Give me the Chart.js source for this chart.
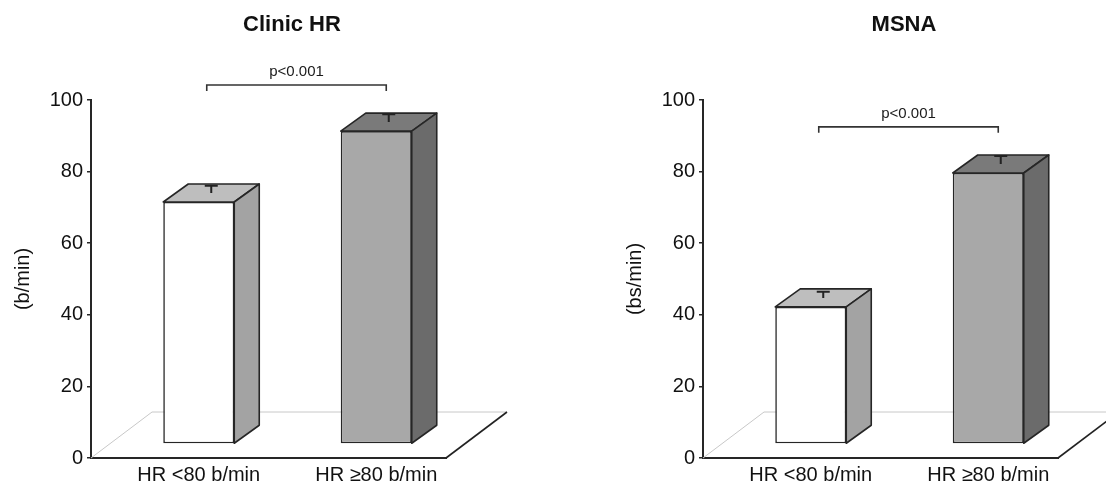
<!DOCTYPE html>
<html>
<head>
<meta charset="utf-8">
<script src="https://cdn.jsdelivr.net/npm/chart.js@4/dist/chart.umd.min.js"></script>
<style>
  html, body { margin: 0; padding: 0; background: #fff; }
  #wrap { position: relative; width: 1106px; height: 485px; }
  .panel { position: absolute; top: 0; width: 553px; height: 485px; }
  #left { left: 0; }
  #right { left: 553px; }
</style>
</head>
<body>
<div id="wrap">
  <div class="panel" id="left"><canvas id="clinic-hr"></canvas></div>
  <div class="panel" id="right"><canvas id="msna"></canvas></div>
</div>
<script>
// values (mean and error bar)
const categories = ['HR <80 b/min', 'HR \u226580 b/min'];
const clinicHR = [67.6, 87.4];
const clinicHRErr = [2.0, 2.2];
const msna = [38.3, 75.7];
const msnaErr = [1.7, 2.2];
const yTicks = [0, 20, 40, 60, 80, 100];
const pText = 'p<0.001';

const FONT = 'Liberation Sans, Arial, Helvetica, sans-serif';

// face colours per bar: front, top, side
const frontColors = ['#ffffff', '#a8a8a8'];
const topColors = ['#bebebe', '#7a7a7a'];
const sideColors = ['#a3a3a3', '#6b6b6b'];

// 3D look: bars sit a little behind the floor front edge
const FLOOR = { dx: 61, dy: -46 };
const BAR_SHIFT = { dx: 19, dy: -14 };
const BAR_DEPTH = { dx: 25, dy: -18 };

const box3d = {
  id: 'box3d',
  beforeDatasetsDraw(chart) {
    const { ctx, chartArea: a } = chart;
    ctx.save();
    ctx.lineWidth = 1;
    ctx.strokeStyle = '#c8c8c8';
    ctx.beginPath();
    ctx.moveTo(a.left, a.bottom);
    ctx.lineTo(a.left + FLOOR.dx, a.bottom + FLOOR.dy);
    ctx.lineTo(a.right + FLOOR.dx, a.bottom + FLOOR.dy);
    ctx.stroke();
    ctx.lineWidth = 1.6;
    ctx.strokeStyle = '#222';
    ctx.beginPath();
    ctx.moveTo(a.right, a.bottom);
    ctx.lineTo(a.right + FLOOR.dx, a.bottom + FLOOR.dy);
    ctx.stroke();
    ctx.restore();
  },
  beforeDatasetDraw(chart) {
    chart.ctx.save();
    chart.ctx.translate(BAR_SHIFT.dx, BAR_SHIFT.dy);
  },
  afterDatasetDraw(chart) {
    chart.ctx.restore();
  },
  afterDatasetsDraw(chart, args, opts) {
    const { ctx } = chart;
    const yScale = chart.scales.y;
    const xScale = chart.scales.x;
    const meta = chart.getDatasetMeta(0);
    ctx.save();
    ctx.translate(BAR_SHIFT.dx, BAR_SHIFT.dy);
    ctx.lineJoin = 'round';
    meta.data.forEach((bar, i) => {
      const p = bar.getProps(['x', 'y', 'base', 'width'], true);
      const l = p.x - p.width / 2, r = p.x + p.width / 2;
      ctx.lineWidth = 1.6;
      ctx.strokeStyle = '#262626';
      // top face
      ctx.beginPath();
      ctx.moveTo(l, p.y);
      ctx.lineTo(l + BAR_DEPTH.dx, p.y + BAR_DEPTH.dy);
      ctx.lineTo(r + BAR_DEPTH.dx, p.y + BAR_DEPTH.dy);
      ctx.lineTo(r, p.y);
      ctx.closePath();
      ctx.fillStyle = topColors[i];
      ctx.fill();
      ctx.stroke();
      // side face
      ctx.beginPath();
      ctx.moveTo(r, p.y);
      ctx.lineTo(r + BAR_DEPTH.dx, p.y + BAR_DEPTH.dy);
      ctx.lineTo(r + BAR_DEPTH.dx, p.base + BAR_DEPTH.dy);
      ctx.lineTo(r, p.base);
      ctx.closePath();
      ctx.fillStyle = sideColors[i];
      ctx.fill();
      ctx.stroke();
      // error bar on the middle of the top face
      const ex = p.x + BAR_DEPTH.dx / 2;
      const ey = p.y + BAR_DEPTH.dy / 2;
      const v = chart.data.datasets[0].data[i];
      const eTop = yScale.getPixelForValue(v + opts.errors[i]) + BAR_DEPTH.dy / 2;
      ctx.lineWidth = 2;
      ctx.strokeStyle = '#222';
      ctx.beginPath();
      ctx.moveTo(ex, ey);
      ctx.lineTo(ex, eTop);
      ctx.moveTo(ex - 6.5, eTop);
      ctx.lineTo(ex + 6.5, eTop);
      ctx.stroke();
    });
    ctx.restore();

    // significance bracket
    ctx.save();
    const x1 = xScale.getPixelForValue(0) + 27;
    const x2 = xScale.getPixelForValue(1) + 29;
    const yb = yScale.getPixelForValue(opts.bracketLevel);
    ctx.lineWidth = 1.6;
    ctx.strokeStyle = '#333';
    ctx.beginPath();
    ctx.moveTo(x1, yb + 6);
    ctx.lineTo(x1, yb);
    ctx.lineTo(x2, yb);
    ctx.lineTo(x2, yb + 6);
    ctx.stroke();
    ctx.fillStyle = '#1a1a1a';
    ctx.font = '15px ' + FONT;
    ctx.textAlign = 'center';
    ctx.textBaseline = 'middle';
    ctx.fillText(pText, (x1 + x2) / 2, yb - 13);

    // panel title
    ctx.font = 'bold 22px ' + FONT;
    ctx.fillStyle = '#111';
    ctx.fillText(opts.title, chart.chartArea.left + 201, 25);
    ctx.restore();
  }
};

function makePanel(canvasId, values, errors, title, yLabel, bracketLevel, padLeft, padRight) {
  return new Chart(document.getElementById(canvasId), {
    type: 'bar',
    data: {
      labels: categories,
      datasets: [{
        data: values,
        backgroundColor: frontColors,
        borderColor: '#262626',
        borderWidth: 1.6,
        borderSkipped: false,
        barPercentage: 0.4,
        categoryPercentage: 1,
        clip: false
      }]
    },
    options: {
      responsive: true,
      maintainAspectRatio: false,
      animation: false,
      events: [],
      layout: { padding: { top: 100, left: padLeft, right: padRight, bottom: 0 } },
      scales: {
        x: {
          grid: { display: false, drawTicks: false },
          border: { display: true, color: '#262626', width: 2 },
          ticks: {
            color: '#111',
            padding: 5,
            labelOffset: 19,
            font: { family: FONT, size: 20 }
          },
          afterFit(scale) { scale.height = 27; }
        },
        y: {
          min: 0,
          max: 100,
          afterBuildTicks(scale) { scale.ticks = yTicks.map(v => ({ value: v })); },
          grid: { drawOnChartArea: false, drawTicks: true, tickLength: 4, color: '#262626', lineWidth: 1.5 },
          border: { display: true, color: '#262626', width: 2 },
          ticks: {
            color: '#111',
            padding: 4,
            font: { family: FONT, size: 20 }
          },
          title: {
            display: true,
            text: yLabel,
            color: '#111',
            padding: { top: 11, bottom: 0 },
            font: { family: FONT, size: 20 }
          },
          afterFit(scale) { scale.width = 91; }
        }
      },
      plugins: {
        legend: { display: false },
        tooltip: { enabled: false },
        box3d: { errors: errors, title: title, bracketLevel: bracketLevel }
      }
    },
    plugins: [box3d]
  });
}

makePanel('clinic-hr', clinicHR, clinicHRErr, 'Clinic HR', '(b/min)', 104.2, 0, 107);
makePanel('msna', msna, msnaErr, 'MSNA', '(bs/min)', 92.5, 59, 48);
</script>
</body>
</html>
